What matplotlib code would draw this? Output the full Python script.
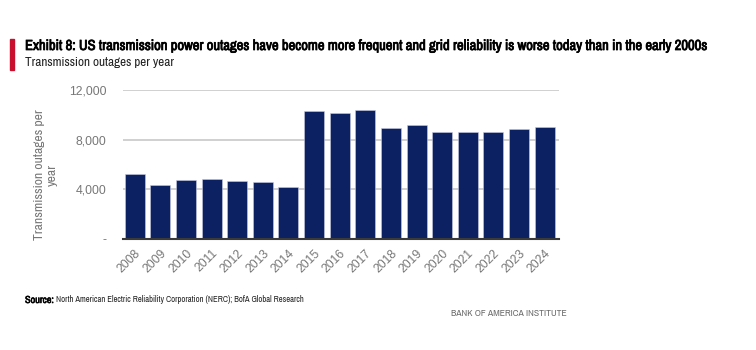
import matplotlib.pyplot as plt
import matplotlib.patheffects as pe
import numpy as np
from matplotlib import font_manager
from matplotlib.patches import Rectangle

years = [str(y) for y in range(2008, 2025)]
outages = [5230, 4350, 4750, 4860, 4670, 4560, 4160, 10330, 10120, 10410,
           8940, 9150, 8640, 8640, 8640, 8830, 9040]
ytick_values = [0, 4000, 8000, 12000]
ytick_labels = ['-', '4,000', '8,000', '12,000']

# prefer a narrow face for the header/footer if one is installed
fonts = font_manager.fontManager.ttflist
narrow = sorted({f.name for f in fonts if 'Narrow' in f.name or 'Condensed' in f.name})
narrow_fam = narrow[:1] + ['Liberation Sans', 'DejaVu Sans']
has_bold = any(f.name in narrow[:1] and f.weight in ('bold', 700) for f in fonts)
plain_fam = ['Liberation Sans', 'DejaVu Sans']
plt.rcParams['font.family'] = plain_fam

# fake the bold weight with a thin stroke if the narrow face has none
bold_fx = [] if has_bold else [pe.withStroke(linewidth=0.55, foreground='black')]

W, H = 756, 350
fig = plt.figure(figsize=(7.56, 3.5), dpi=100)
ax = fig.add_axes([0.163, 0.317, 0.576, 0.426])

x = np.arange(len(years))
ax.bar(x, outages, 0.78, color='#0c2161', edgecolor='#c8cce0', linewidth=0.4, zorder=3)

ax.set_xlim(-0.45, 16.55)
ax.set_ylim(0, 12000)
ax.set_yticks(ytick_values)
ax.set_yticklabels(ytick_labels)
ax.set_xticks(x)
ax.set_xticklabels(years, rotation=45, ha='right', rotation_mode='anchor')
ax.tick_params(axis='both', length=0, colors='#777777', labelsize=8.8)
ax.tick_params(axis='x', pad=6)
ax.tick_params(axis='y', pad=12)
ax.grid(axis='y', color='#c8c8c8', linewidth=1.2, zorder=0)
for s in ['top', 'right', 'left']:
    ax.spines[s].set_visible(False)
ax.spines['bottom'].set_color('#3a3a3a')
ax.spines['bottom'].set_linewidth(1.5)
ax.spines['bottom'].set_zorder(4)

ax.set_ylabel('Transmission outages per\nyear', color='#777777', fontsize=9.8,
              family=narrow_fam)
ax.yaxis.set_label_coords(-0.151, 0.43)


def fit(t, width_px):
    # scale a text so it spans the width seen in the reference
    fig.canvas.draw()
    w = t.get_window_extent().width
    t.set_fontsize(t.get_fontsize() * width_px / w)


# header
fig.patches.append(Rectangle((10 / W, 1 - 70 / H), 4 / W, 31 / H,
                             transform=fig.transFigure, color='#c8102e'))
title = fig.text(25 / W, 1 - 46 / H,
                 'Exhibit 8: US transmission power outages have become more frequent and grid reliability is worse today than in the early 2000s',
                 fontsize=10, fontweight='bold', color='black', va='center',
                 family=narrow_fam, path_effects=bold_fx)
fit(title, 685)
sub = fig.text(25 / W, 1 - 62 / H, 'Transmission outages per year',
               fontsize=10, color='#222222', va='center', family=narrow_fam)
fit(sub, 150)

# footer
t1 = fig.text(25 / W, 1 - 300 / H, 'Source:', fontsize=6, fontweight='bold', va='center',
              family=narrow_fam, path_effects=[] if has_bold else
              [pe.withStroke(linewidth=0.4, foreground='black')])
rest = fig.text(56 / W, 1 - 300 / H,
                'North American Electric Reliability Corporation (NERC); BofA Global Research',
                fontsize=6, va='center', color='#222222', family=narrow_fam)
fit(t1, 29)
fit(rest, 248)
fig.canvas.draw()
rest.set_x(t1.get_window_extent().x1 / W + 2 / W)
bank = fig.text(567 / W, 1 - 314 / H, 'BANK OF AMERICA INSTITUTE', fontsize=6,
                color='#6b6b6b', va='center', ha='right', family=narrow_fam)
fit(bank, 117)

fig.savefig('out.png', dpi=100, facecolor='white')
